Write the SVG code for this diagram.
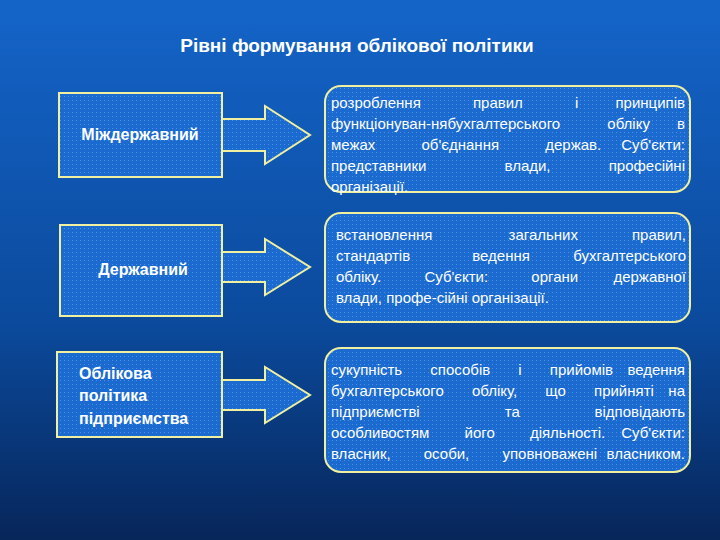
<svg xmlns="http://www.w3.org/2000/svg" width="720" height="540" viewBox="0 0 720 540">
<defs>
<linearGradient id="bg" x1="0" y1="0" x2="0" y2="1">
<stop offset="0" stop-color="#1464c8"/><stop offset="0.6" stop-color="#0b4a9c"/><stop offset="1" stop-color="#07265a"/>
</linearGradient>
<pattern id="dots" width="4" height="4" patternUnits="userSpaceOnUse">
<rect width="4" height="4" fill="#1a6ad0"/><rect width="1" height="1" fill="#4f8fe0"/>
</pattern>
</defs>
<style>
.box{fill:url(#dots);stroke:#f0f0a0;stroke-width:2}
.arr{fill:url(#dots);stroke:#f0f0a0;stroke-width:2}
.lbl{font-family:"Liberation Sans",Arial,sans-serif;font-size:16px;font-weight:bold;fill:#ffffff}
text.t{font-family:"Liberation Sans",Arial,sans-serif;font-size:15px;fill:#ffffff}
.e{text-anchor:end}
.title{font-family:"Liberation Sans",Arial,sans-serif;font-size:19px;font-weight:bold;fill:#ffffff}
</style>
<rect width="720" height="540" fill="url(#bg)"/>
<text class="title" x="357" y="52" text-anchor="middle">Рівні формування облікової політики</text>
<g id="connectors">
<path class="arr" d="M222,119 H265 V106 L310,135 L265,164 V151 H222 Z"/>
<path class="arr" d="M222,252 H265 V239 L310,267 L265,295 V282 H222 Z"/>
<path class="arr" d="M222,380 H265 V367 L310,395 L265,423 V410 H222 Z"/>
</g>
<g id="n1"><rect class="box" x="59" y="93" width="163" height="84"/><text class="lbl" x="140" y="140" text-anchor="middle">Міждержавний</text></g>
<g id="n2"><rect class="box" x="60" y="225" width="162" height="91"/><text class="lbl" x="143" y="275" text-anchor="middle">Державний</text></g>
<g id="n3"><rect class="box" x="57" y="352" width="165" height="85"/><text class="lbl" x="79" y="379">Облікова</text><text class="lbl" x="79" y="401">політика</text><text class="lbl" x="79" y="424">підприємства</text></g>
<g id="d1"><rect class="box" x="325" y="86" width="365" height="106" rx="16"/>
<text class="t" x="331" y="108" word-spacing="48">розроблення правил і</text><text class="t e" x="685" y="108">принципів</text>
<text class="t" x="331" y="129" word-spacing="43">функціонуван-нябухгалтерського обліку</text><text class="t e" x="685" y="129">в</text>
<text class="t" x="331" y="150" word-spacing="42">межах об'єднання держав.</text><text class="t e" x="685" y="150">Суб'єкти:</text>
<text class="t" x="331" y="171" word-spacing="74">представники влади,</text><text class="t e" x="685" y="171">професійні</text>
<text class="t" x="331" y="192">організації.</text></g>
<g id="d2"><rect class="box" x="325" y="213" width="365" height="109" rx="16"/>
<text class="t" x="336" y="240" word-spacing="72">встановлення загальних</text><text class="t e" x="686" y="240">правил,</text>
<text class="t" x="336" y="261" word-spacing="58">стандартів ведення</text><text class="t e" x="686" y="261">бухгалтерського</text>
<text class="t" x="336" y="282" word-spacing="39">обліку. Суб'єкти: органи</text><text class="t e" x="686" y="282">державної</text>
<text class="t" x="336" y="303">влади, профе-сійні організації.</text></g>
<g id="d3"><rect class="box" x="325" y="348" width="365" height="124" rx="16"/>
<text class="t" x="331" y="375" word-spacing="24">сукупність способів і прийомів</text><text class="t e" x="685" y="375">ведення</text>
<text class="t" x="331" y="396" word-spacing="24">бухгалтерського обліку, що прийняті</text><text class="t e" x="685" y="396">на</text>
<text class="t" x="331" y="417" word-spacing="81">підприємстві та</text><text class="t e" x="685" y="417">відповідають</text>
<text class="t" x="331" y="438" word-spacing="31">особливостям його діяльності.</text><text class="t e" x="685" y="438">Суб'єкти:</text>
<text class="t" x="331" y="459" word-spacing="29">власник, особи, уповноважені</text><text class="t e" x="685" y="459">власником.</text></g>
</svg>
